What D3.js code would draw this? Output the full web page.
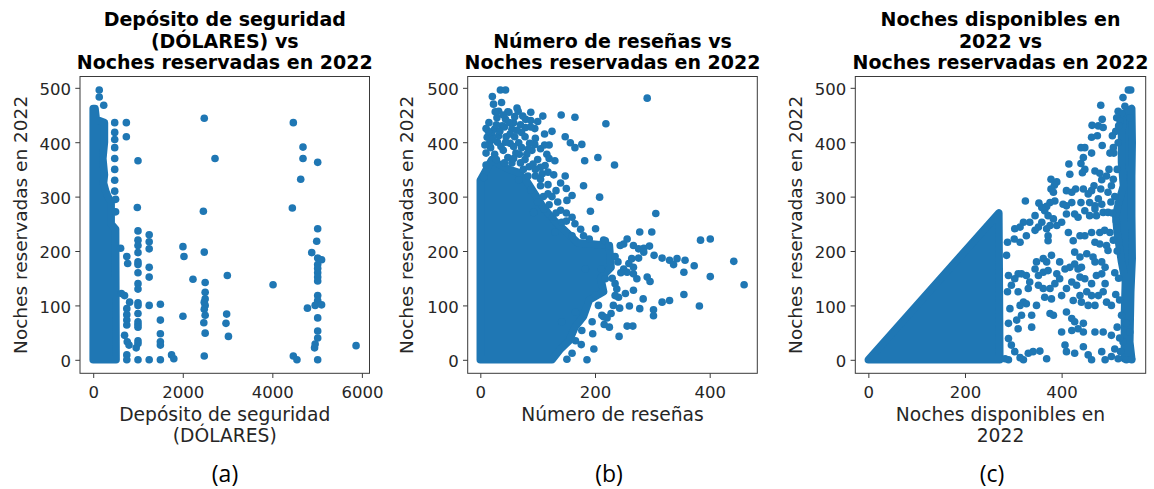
<!DOCTYPE html>
<html>
<head>
<meta charset="utf-8">
<script src="https://cdn.jsdelivr.net/npm/d3@7"></script>
<style>
  body { margin: 0; background: #fff; }
  svg { display: block; }
</style>
</head>
<body>
<svg id="chart" width="1154" height="489"></svg>
<script>
// ---------- data ----------
const bookedTicks = [0, 100, 200, 300, 400, 500];
const depositTicks = [0, 2000, 4000, 6000];
const reviewTicks = [0, 200, 400];
const availableTicks = [0, 200, 400];

// (a) security deposit vs nights booked: saturated block of listings, then isolated listings
const depositCore = [[0,0],[0,462],[40,462],[70,440],[130,440],[250,436],[250,400],[215,370],[250,340],[230,325],[280,310],[330,300],[400,290],[400,250],[500,240],[510,0]];
const depositPoints = [
  [135,496],[135,483],[235,468],
  [480,436],[480,418],[480,405],[480,390],[480,370],[480,350],[480,330],[480,310],[500,295],[500,272],
  [740,436],[740,410],[1000,366],[985,280],
  [1000,237],[1000,220],[1000,210],[1000,197],[1000,180],[1000,175],[1000,160],[1000,140],[1000,130],[1000,105],[1000,100],[1000,85],[1000,70],[1000,65],[1000,60],[1000,35],[1000,30],[960,22],[1000,0],
  [1250,230],[1250,217],[1250,204],[1250,170],[1250,152],[1250,100],[1250,0],
  [612,205],[750,190],[770,177],[630,122],[700,118],[813,106],[750,94],[750,83],[750,73],[750,64],[700,45],[760,33],[800,27],[750,9],[750,0],
  [1500,102],[1500,73],[1500,48],[1500,33],[1500,27],[1500,0],[1750,9],[1800,2],
  [2004,208],[2027,190],[2228,148],[2004,80],
  [2480,444],[2460,273],[2480,198],[2500,142],[2500,124],[2500,112],[2480,106],[2500,100],[2480,93],[2500,82],[2470,68],[2500,49],[2480,7],
  [2720,370],[2995,155],[2980,84],[2965,67],[3020,43],[4016,138],
  [4469,436],[4685,391],[4685,370],[5013,363],[4634,332],[4447,279],[5013,241],[4991,218],[4880,197],[5013,187],[5100,184],[5013,175],[5013,168],[5013,160],[5013,152],[5013,145],[5013,118],[5013,109],[4956,100],[5100,101],[4784,95],[5013,77],[5013,53],[5013,40],[4956,29],[4943,22],[5013,0],[4469,7],[4550,0],[5870,26]
];

// (b) number of reviews vs nights booked
const reviewCore = [[0,0],[0,330],[8,345],[20,368],[35,358],[50,350],[65,345],[80,330],[95,305],[110,280],[130,255],[150,235],[170,215],[225,210],[228,170],[210,150],[215,125],[190,110],[180,80],[165,60],[155,35],[140,20],[125,0]];
const reviewPoints = [
  [21,484],[35,496],[44,496],[37,473],[23,470],[32,457],[48,456],[64,463],[66,457],[15,436],[29,445],[44,442],[58,436],[79,442],[79,427],[109,448],[141,450],[165,446],[219,434],
  [12,409],[25,424],[38,430],[55,424],[96,407],[95,396],[67,399],[148,410],[157,399],[165,390],[177,396],[182,366],[205,372],[116,378],[130,366],[81,378],[113,357],[105,354],[96,338],[83,338],[67,331],[148,338],[180,320],[132,311],[110,300],[160,302],[151,293],[208,299],[192,273],[160,262],[142,253],[126,262],[111,277],[93,271],[130,235],[201,241],[160,228],[215,220],[6,335],[10,358],
  [10,380],[18,390],[25,378],[30,400],[40,385],[48,372],[55,362],[62,380],[70,362],[75,350],[85,355],[20,415],[32,412],[45,410],[52,398],[60,410],[72,418],[86,398],[90,385],[100,368],[105,332],[118,322],[125,300],[135,290],[100,290],[88,312],[60,447],[70,432],[88,440],[95,425],[42,428],[50,436],[28,432],[16,398],[72,390],[58,392],[105,388],[120,395],[112,415],[125,420],
  [14,420],[22,405],[36,392],[44,400],[52,415],[64,422],[78,410],[84,388],[92,360],[96,350],[108,342],[118,345],[28,368],[42,362],[58,370],[68,378],[78,368],[34,420],[50,455],[40,450],[26,456],[10,425],[8,395],[112,395],[120,370],[128,340],[140,325],[150,315],[118,305],[140,275],[150,270],[165,250],[175,240],[180,228],[190,222],[120,285],[132,270],[150,255],[105,320],[100,438],[88,428],[74,448],[88,455]
  ,
  [291,481],[234,358],[306,269],[278,235],[299,235],[256,222],[218,219],[224,210],[244,210],[250,213],[267,210],[276,204],[285,205],[295,209],[384,220],[401,222],
  [303,192],[317,187],[330,183],[343,186],[337,175],[357,183],[373,173],[355,161],[442,181],[401,153],[460,138],
  [296,144],[291,152],[273,149],[267,158],[256,161],[250,167],[264,186],[276,187],[285,198],[259,177],[267,170],
  [235,190],[240,180],[245,160],[230,150],[238,130],[232,100],[228,85],[225,60],
  [235,140],[267,128],[253,122],[241,115],[235,118],[284,112],[317,106],[330,109],[355,120],[382,99],[260,99],[278,94],[243,95],[302,92],[302,81],[215,79],[216,65],[256,62],[266,62],[242,43],
  [151,1],[186,0],[160,12],[198,20],[177,54],[196,48],[166,35],[176,28],[142,70],[166,88],[195,70],[212,82],[221,77],[206,100],[201,119],[218,149],[211,167],[183,167]
];

// (c) nights available vs nights booked: booked can never exceed available
const availableCore = [[0,0],[270,270],[272,0]];
const availableColumn = [[528,452],[545,462],[546,399],[545,338],[545,265],[546,186],[543,125],[541,33],[545,2],[530,2],[530,82],[532,143],[524,180],[515,234],[512,265],[518,289],[528,320],[524,363],[524,412]];
const availablePoints = [
  [538,496],[543,496],[527,482],[531,466],[481,468],[517,457],[524,453],[514,445],[521,439],[541,445],[484,442],[463,431],[476,430],[486,427],[505,412],[462,409],[474,412],[484,394],[440,390],[448,390],[462,380],[507,390],[517,399],
  [445,372],[440,361],[448,350],[443,344],[415,360],[417,341],[469,347],[479,343],[483,331],[493,338],[378,332],[390,327],[385,321],[378,314],[383,308],[410,311],[421,308],[429,314],[445,314],[455,305],[462,311],[467,320],[481,314],[476,296],[507,332],[503,320],[496,308],
  [483,286],[469,283],[458,289],[440,289],[421,289],[410,283],[403,286],[386,292],[376,289],[369,282],[365,274],[353,288],[359,280],[325,292],
  [372,265],[383,259],[400,253],[390,247],[376,247],[369,241],[359,253],[345,265],[334,253],[321,253],[314,244],[303,241],[302,222],[314,216],[327,228],[345,238],[352,244],[372,228],[372,219],
  [410,268],[427,268],[434,262],[448,274],[458,265],[469,277],[472,265],[486,271],[496,271],[414,234],[424,219],[438,228],[448,228],[462,234],[479,234],[489,238],[500,234],[469,216],[479,213],[493,210],[496,201],
  [427,198],[438,189],[452,195],[465,189],[469,180],[483,180],[490,170],[427,176],[434,167],[441,170],[417,170],[407,167],[396,180],[379,192],[369,180],[362,186],[348,180],[345,167],[352,155],[362,161],[372,164],[390,158],[396,149],[386,140],[376,131],[362,131],[352,137],[334,143],[327,155],[317,158],[310,158],[303,149],[296,137],[310,125],[321,106],[327,103],[314,100],[331,131],
  [365,115],[379,112],[400,118],[410,131],[421,143],[431,137],[438,152],[448,149],[462,140],[472,155],[483,158],[490,140],[486,125],[476,118],[462,118],[452,125],[438,118],[424,109],[441,106],[455,100],[469,100],[493,106],[503,100],[348,100],
  [376,85],[383,82],[338,82],[317,82],[307,73],[290,67],[410,88],[421,76],[427,70],[434,57],[421,54],[445,67],[445,51],[469,51],[486,51],[503,45],[400,51],[338,60],[310,57],[290,39],[296,27],[303,15],[314,4],[321,0],[331,12],[341,15],[355,16],[369,2],
  [407,27],[410,15],[427,12],[445,24],[455,9],[462,0],[483,15],[490,0],[503,6],[517,2],[534,0],[545,0],[527,33],[541,51],[534,67],[524,82],
  [290,0],[283,2],[288,216],[286,192],[290,155],[288,125],[293,94],
  [512,420],[508,380],[515,350],[510,300],[505,270],[513,255],[507,220],[515,200],[510,160],[518,150],[512,120],[520,110],[515,60],[520,40],[510,20],[522,15],[500,380],[498,350],[502,290],[518,430]
];

// ---------- layout ----------
const svg = d3.select('#chart');
const dotColor = '#1f77b4';
const dotR = 3.8;
const plotTop = 76.5, plotBottom = 373.3;
const textColor = '#262626';

const panels = [
  { id: 'a', left: 80, right: 369.5, xDomain: [-295, 6170], xTicks: depositTicks,
    cores: [depositCore], points: depositPoints,
    title: ['Depósito de seguridad', '(DÓLARES) vs', 'Noches reservadas en 2022'], titleY: [25.5, 47.5, 68.5],
    xlabel: ['Depósito de seguridad', '(DÓLARES)'], ylabelX: 26.7, tagX: 225 },
  { id: 'b', left: 467.7, right: 757.3, xDomain: [-22, 483], xTicks: reviewTicks,
    cores: [reviewCore], points: reviewPoints,
    title: ['Número de reseñas vs', 'Noches reservadas en 2022'], titleY: [47.5, 68.5],
    xlabel: ['Número de reseñas'], ylabelX: 413.3, tagX: 609 },
  { id: 'c', left: 855.3, right: 1145.7, xDomain: [-27, 574], xTicks: availableTicks,
    cores: [availableCore, availableColumn], points: availablePoints,
    title: ['Noches disponibles en', '2022 vs', 'Noches reservadas en 2022'], titleY: [25.5, 47.5, 68.5],
    xlabel: ['Noches disponibles en', '2022'], ylabelX: 801.7, tagX: 992 }
];

panels.forEach(p => {
  const x = d3.scaleLinear().domain(p.xDomain).range([p.left, p.right]);
  const y = d3.scaleLinear().domain([-24.8, 520.8]).range([plotBottom, plotTop]);
  const g = svg.append('g');

  g.append('clipPath').attr('id', 'clip-' + p.id)
    .append('rect').attr('x', p.left).attr('y', plotTop)
    .attr('width', p.right - p.left).attr('height', plotBottom - plotTop);

  const plot = g.append('g').attr('clip-path', `url(#clip-${p.id})`);
  const line = d3.line().x(d => x(d[0])).y(d => y(d[1])).curve(d3.curveLinearClosed);

  // saturated regions: the outline of overlapping markers, padded by one marker radius
  plot.selectAll('path.core').data(p.cores).join('path')
    .attr('class', 'core')
    .attr('d', line)
    .attr('fill', dotColor)
    .attr('stroke', dotColor)
    .attr('stroke-width', dotR * 2)
    .attr('stroke-linejoin', 'round');

  plot.selectAll('circle').data(p.points).join('circle')
    .attr('cx', d => x(d[0])).attr('cy', d => y(d[1]))
    .attr('r', dotR).attr('fill', dotColor);

  // frame
  g.append('rect').attr('x', p.left).attr('y', plotTop)
    .attr('width', p.right - p.left).attr('height', plotBottom - plotTop)
    .attr('fill', 'none').attr('stroke', '#3a3a3a').attr('stroke-width', 1);

  // axes
  const yAxis = g.append('g').attr('transform', `translate(${p.left},0)`)
    .call(d3.axisLeft(y).tickValues(bookedTicks).tickSize(4.7).tickPadding(4.3));
  const xAxis = g.append('g').attr('transform', `translate(0,${plotBottom})`)
    .call(d3.axisBottom(x).tickValues(p.xTicks).tickFormat(d3.format('d')).tickSize(4.7).tickPadding(4.5));
  [yAxis, xAxis].forEach(a => {
    a.select('.domain').remove();
    a.selectAll('line').attr('stroke', '#3a3a3a');
    a.selectAll('text').attr('fill', textColor)
      .style('font-family', '"DejaVu Sans", sans-serif').style('font-size', '16.5px');
  });
  yAxis.selectAll('text').attr('dy', '0.42em');
  xAxis.selectAll('text').attr('y', 25).attr('dy', 0);

  // title
  const cx = (p.left + p.right) / 2;
  g.selectAll('text.title').data(p.title).join('text')
    .attr('class', 'title')
    .attr('x', cx).attr('y', (d, i) => p.titleY[i])
    .attr('text-anchor', 'middle').attr('fill', '#000')
    .style('font-family', '"DejaVu Sans", sans-serif').style('font-weight', 'bold').style('font-size', '19px')
    .text(d => d);

  // axis labels
  g.selectAll('text.xlabel').data(p.xlabel).join('text')
    .attr('class', 'xlabel')
    .attr('x', cx).attr('y', (d, i) => 421 + i * 20.7)
    .attr('text-anchor', 'middle').attr('fill', textColor)
    .style('font-family', '"DejaVu Sans", sans-serif').style('font-size', '18.7px')
    .text(d => d);

  g.append('text')
    .attr('transform', `translate(${p.ylabelX},${(plotTop + plotBottom) / 2}) rotate(-90)`)
    .attr('text-anchor', 'middle').attr('fill', textColor)
    .style('font-family', '"DejaVu Sans", sans-serif').style('font-size', '18.5px')
    .text('Noches reservadas en 2022');

  // sub-figure tag
  g.append('text')
    .attr('x', p.tagX).attr('y', 482)
    .attr('text-anchor', 'middle').attr('fill', '#000')
    .style('font-family', '"Open Sans", sans-serif').style('font-size', '23px')
    .text(`(${p.id})`);
});
</script>
</body>
</html>
